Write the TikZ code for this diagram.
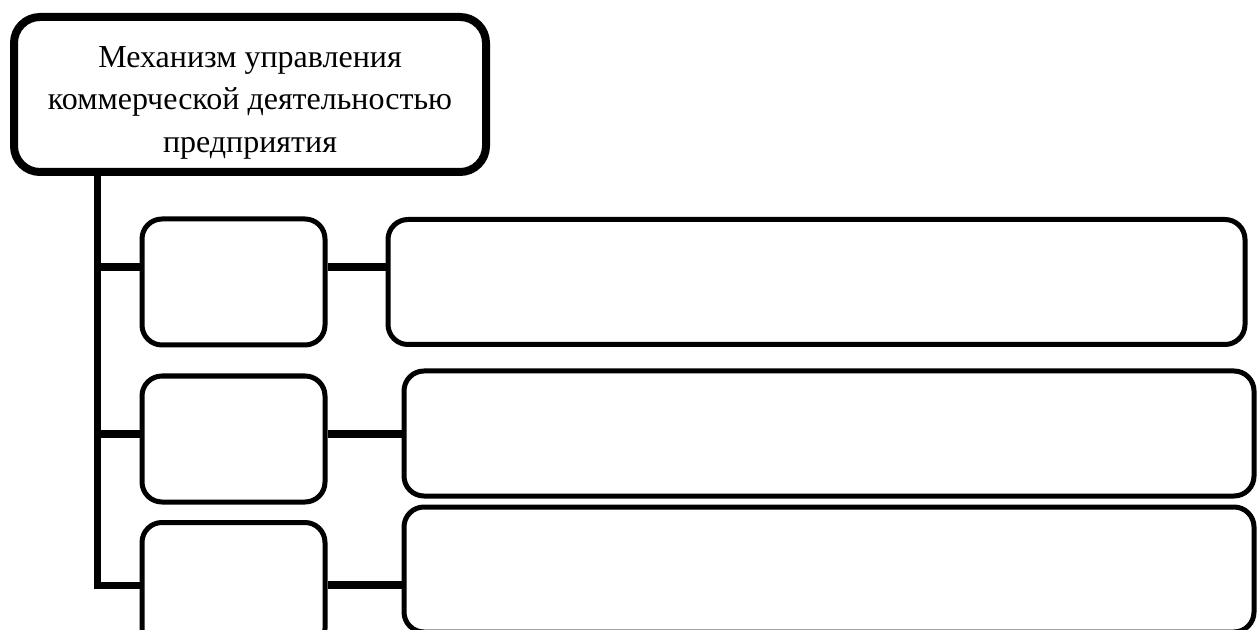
\documentclass[tikz,border=0pt]{standalone}
\usepackage{fontspec}
\setmainfont{Liberation Serif}
\begin{document}
\begin{tikzpicture}[x=0.5pt,y=-0.5pt,
  topbox/.style={draw=black,line width=4pt,rounded corners=13pt,fill=white,
    minimum width=236pt,minimum height=77.5pt,inner sep=0pt},
  smallbox/.style={draw=black,line width=2.5pt,rounded corners=10pt,fill=white,
    minimum width=91.5pt,minimum height=63pt,inner sep=0pt},
  bigbox/.style={draw=black,line width=2.5pt,rounded corners=10pt,fill=white,
    minimum height=62.5pt,inner sep=0pt},
  conn/.style={draw=black,line width=4pt},
  trunkline/.style={draw=black,line width=3.5pt},
  titletext/.style={align=center,inner sep=0pt,font=\fontsize{16pt}{21.25pt}\selectfont}]
\useasboundingbox (0,0) rectangle (1257,630);
\clip (0,0) rectangle (1257,630);
\fill[white] (0,0) rectangle (1257,630);

\coordinate (t0) at (97,172);
\coordinate (t1) at (97,267);
\coordinate (t2) at (97,434);
\coordinate (t3) at (97,585);

\node[topbox] (top) at (250,94.5) {};
\node[titletext] (title) at (250,102.5) {Механизм управления\\коммерческой деятельностью\\предприятия};

\node[smallbox] (s1) at (233.5,282) {};
\node[smallbox] (s2) at (233.5,439) {};
\node[smallbox] (s3) at (233.5,585.5) {};

\node[bigbox,minimum width=428.5pt] (r1) at (816.5,282) {};
\node[bigbox,minimum width=425pt] (r2) at (829,433.5) {};
\node[bigbox,minimum width=425pt] (r3) at (829,569.5) {};

\draw[trunkline] (top.south -| t0) -- (t3) -- (t3 -| s3.west);
\draw[conn] (t1) -- (t1 -| s1.west);
\draw[conn] (t2) -- (t2 -| s2.west);
\draw[conn] (t1 -| s1.east) -- (t1 -| r1.west);
\draw[conn] (t2 -| s2.east) -- (t2 -| r2.west);
\draw[conn] (t3 -| s3.east) -- (t3 -| r3.west);
\end{tikzpicture}
\end{document}
